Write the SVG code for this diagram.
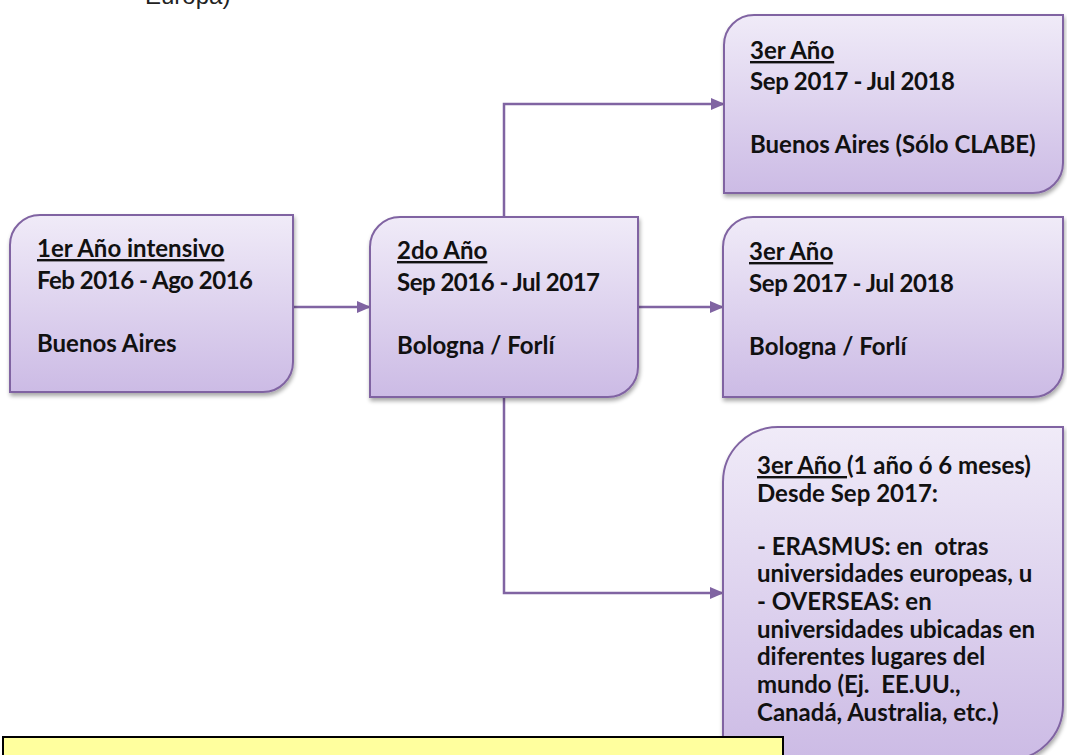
<svg xmlns="http://www.w3.org/2000/svg" width="1067" height="755" viewBox="0 0 1067 755">
<style>
.box{fill:url(#g);stroke:#8064a2;stroke-width:2;filter:url(#sh)}
.t{font-family:Lato,"Liberation Sans",sans-serif;font-weight:bold;font-size:24px;fill:#111}
.u{text-decoration:underline}
.c{fill:none;stroke:#8064a2;stroke-width:2.5}
</style>
<defs>
<linearGradient id="g" x1="0" y1="0" x2="0" y2="1">
<stop offset="0" stop-color="#f0ebf8"/>
<stop offset="1" stop-color="#ccbbe5"/>
</linearGradient>
<filter id="sh" x="-5%" y="-5%" width="115%" height="115%">
<feGaussianBlur in="SourceAlpha" stdDeviation="2"/>
<feOffset dx="1" dy="3" result="b"/>
<feComponentTransfer><feFuncA type="linear" slope="0.35"/></feComponentTransfer>
<feMerge><feMergeNode/><feMergeNode in="SourceGraphic"/></feMerge>
</filter>
<marker id="ah" markerUnits="userSpaceOnUse" markerWidth="14" markerHeight="12" refX="13" refY="6" orient="auto">
<path d="M0,0 L14,6 L0,12 Z" fill="#8064a2"/>
</marker>
</defs>
<text x="145" y="4" font-family="Liberation Sans,Arial,sans-serif" font-size="24" fill="#222">Europa)</text>
<g id="connectors">
<path class="c" d="M293,307 H370" marker-end="url(#ah)"/>
<path class="c" d="M504,217 V104 H724" marker-end="url(#ah)"/>
<path class="c" d="M638,307 H723" marker-end="url(#ah)"/>
<path class="c" d="M504,397 V593 H723" marker-end="url(#ah)"/>
</g>
<g id="n1">
<path class="box" d="M40,215 H293 V362 A30,30 0 0 1 263,392 H10 V245 A30,30 0 0 1 40,215 Z"/>
<text class="t" x="37" y="257"><tspan class="u">1er Año intensivo</tspan></text>
<text class="t" x="37" y="289" textLength="216">Feb 2016 - Ago 2016</text>
<text class="t" x="37" y="352">Buenos Aires</text>
</g>
<g id="n2">
<path class="box" d="M400,217 H638 V367 A30,30 0 0 1 608,397 H370 V247 A30,30 0 0 1 400,217 Z"/>
<text class="t" x="397" y="259"><tspan class="u">2do Año</tspan></text>
<text class="t" x="397" y="291" textLength="203">Sep 2016 - Jul 2017</text>
<text class="t" x="397" y="354">Bologna / Forlí</text>
</g>
<g id="n3">
<path class="box" d="M754,15 H1063 V163 A30,30 0 0 1 1033,193 H724 V45 A30,30 0 0 1 754,15 Z"/>
<text class="t" x="750" y="59"><tspan class="u">3er Año</tspan></text>
<text class="t" x="750" y="90" textLength="205">Sep 2017 - Jul 2018</text>
<text class="t" x="750" y="153">Buenos Aires (Sólo CLABE)</text>
</g>
<g id="n4">
<path class="box" d="M753,217 H1063 V367 A30,30 0 0 1 1033,397 H723 V247 A30,30 0 0 1 753,217 Z"/>
<text class="t" x="749" y="260"><tspan class="u">3er Año</tspan></text>
<text class="t" x="749" y="292" textLength="205">Sep 2017 - Jul 2018</text>
<text class="t" x="749" y="355">Bologna / Forlí</text>
</g>
<g id="n5">
<path class="box" d="M778,427 H1063 V705 A55,55 0 0 1 1008,760 H723 V482 A55,55 0 0 1 778,427 Z"/>
<text class="t" x="757" y="474"><tspan class="u" xml:space="preserve">3er Año </tspan>(1 año ó 6 meses)</text>
<text class="t" x="757" y="502">Desde Sep 2017:</text>
<text class="t" x="757" y="555" xml:space="preserve">- ERASMUS: en  otras</text>
<text class="t" x="757" y="582">universidades europeas, u</text>
<text class="t" x="757" y="610">- OVERSEAS: en</text>
<text class="t" x="757" y="638">universidades ubicadas en</text>
<text class="t" x="757" y="665">diferentes lugares del</text>
<text class="t" x="757" y="693" xml:space="preserve">mundo (Ej.  EE.UU.,</text>
<text class="t" x="757" y="721">Canadá, Australia, etc.)</text>
</g>
<g id="note">
<rect x="3" y="737" width="780" height="30" fill="#ffff9e" stroke="#000" stroke-width="2"/>
</g>
</svg>
